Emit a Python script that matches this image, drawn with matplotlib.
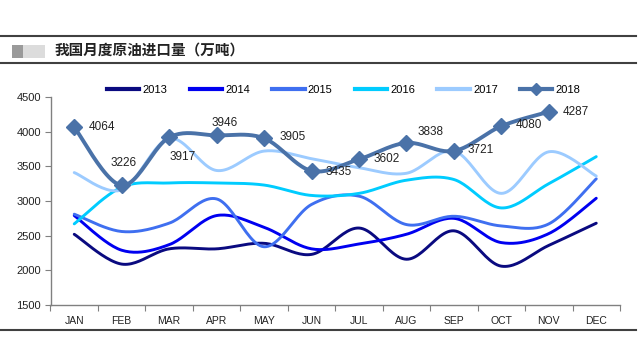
import numpy as np
import matplotlib
matplotlib.use("Agg")
import matplotlib.pyplot as plt
from matplotlib.lines import Line2D
from matplotlib.patches import Rectangle

plt.rcParams['font.family'] = ['Liberation Sans', 'Noto Sans CJK SC', 'DejaVu Sans']

months = ["JAN", "FEB", "MAR", "APR", "MAY", "JUN", "JUL", "AUG", "SEP", "OCT", "NOV", "DEC"]
years = ["2013", "2014", "2015", "2016", "2017", "2018"]

v2013 = [2520, 2090, 2310, 2310, 2390, 2230, 2610, 2160, 2570, 2060, 2360, 2680]
v2014 = [2790, 2290, 2370, 2790, 2620, 2310, 2380, 2520, 2750, 2400, 2530, 3040]
v2015 = [2810, 2560, 2680, 3030, 2340, 2950, 3070, 2660, 2780, 2640, 2670, 3320]
v2016 = [2670, 3200, 3260, 3260, 3230, 3080, 3110, 3300, 3310, 2900, 3250, 3640]
v2017 = [3410, 3160, 3900, 3440, 3720, 3610, 3480, 3400, 3720, 3110, 3710, 3360]
v2018 = [4064, 3226, 3917, 3946, 3905, 3435, 3602, 3838, 3721, 4080, 4287]

colors = ["#0a0a80", "#0000f0", "#3f6ff0", "#00ccff", "#9ccbff", "#4a72a8"]

# label offsets (pixels) for 2018 data labels
label_off = [(28, 0), (2, 22), (14, -20), (8, 12), (29, 1), (27, -1), (28, 0), (24, 11), (27, 1), (28, 1), (27, 0)]


def smooth(xs, ys, n=24):
    xs = np.asarray(xs, float)
    ys = np.asarray(ys, float)
    px, py = [], []
    m = len(xs)
    for i in range(m - 1):
        x0, y0 = (xs[i - 1], ys[i - 1]) if i > 0 else (xs[i], ys[i])
        x1, y1 = xs[i], ys[i]
        x2, y2 = xs[i + 1], ys[i + 1]
        x3, y3 = (xs[i + 2], ys[i + 2]) if i + 2 < m else (xs[i + 1], ys[i + 1])
        c1x, c1y = x1 + (x2 - x0) / 6, y1 + (y2 - y0) / 6
        c2x, c2y = x2 - (x3 - x1) / 6, y2 - (y3 - y1) / 6
        t = np.linspace(0, 1, n, endpoint=(i == m - 2))
        b0, b1, b2, b3 = (1 - t) ** 3, 3 * t * (1 - t) ** 2, 3 * t ** 2 * (1 - t), t ** 3
        px.extend(b0 * x1 + b1 * c1x + b2 * c2x + b3 * x2)
        py.extend(b0 * y1 + b1 * c1y + b2 * c2y + b3 * y2)
    return np.array(px), np.array(py)


fig = plt.figure(figsize=(6.4, 3.64), dpi=100)
ax = fig.add_axes([50.5 / 640, (364 - 305) / 364, (620 - 50.5) / 640, (305 - 97) / 364])

series = [v2013, v2014, v2015, v2016, v2017]
handles = []
for vals, col, yr in zip(series, colors[:5], years[:5]):
    x = np.arange(len(vals))
    sx, sy = smooth(x, vals)
    ax.plot(sx, sy, color=col, lw=2.1, solid_capstyle='round', zorder=2)
    handles.append(Line2D([], [], color=col, lw=3.0, label=yr))

x18 = np.arange(len(v2018))
sx, sy = smooth(x18, v2018)
ax.plot(sx, sy, color=colors[5], lw=2.8, zorder=3)
ax.plot(x18, v2018, ls='none', marker='D', ms=8, color=colors[5], zorder=4)
handles.append(Line2D([], [], color=colors[5], lw=3.0, marker='D', ms=6, label=years[5]))

for xi, v, (dx, dy) in zip(x18, v2018, label_off):
    ax.annotate(str(v), (xi, v), xytext=(dx, dy), textcoords='offset pixels',
                ha='center', va='center', fontsize=8.5, color='#222222', zorder=5)

ax.set_xlim(-0.5, 11.5)
ax.set_ylim(1500, 4500)
ax.set_yticks(np.arange(1500, 4501, 500))
ax.set_xticks(np.arange(-0.5, 12, 1))
ax.set_xticklabels([])
ax.set_xticks(np.arange(12), minor=True)
ax.set_xticklabels(months, minor=True)
ax.tick_params(axis='x', which='minor', length=0, pad=8, labelsize=7.5, colors='#222222')
ax.tick_params(axis='x', which='major', length=4, color='#808080', direction='out')
ax.tick_params(axis='y', length=4, color='#808080', labelsize=8, colors='#222222', pad=3)
for s in ['top', 'right']:
    ax.spines[s].set_visible(False)
for s in ['left', 'bottom']:
    ax.spines[s].set_color('#808080')
    ax.spines[s].set_linewidth(1.0)

leg = ax.legend(handles=handles, ncol=6, loc='center', bbox_to_anchor=(0.515, 1.034),
                frameon=False, fontsize=8, handlelength=2.9, handletextpad=0.3,
                columnspacing=2.0, borderaxespad=0)

# header / footer decoration
fig.add_artist(Line2D([0, 636 / 640], [1 - 36 / 364] * 2, color='#404040', lw=1.5))
fig.add_artist(Line2D([0, 636 / 640], [1 - 63 / 364] * 2, color='#404040', lw=1.5))
fig.add_artist(Line2D([0, 636 / 640], [1 - 330 / 364] * 2, color='#404040', lw=1.5))
fig.add_artist(Rectangle((12 / 640, 1 - 58 / 364), 11 / 640, 13 / 364, color='#9a9a9a', lw=0))
fig.add_artist(Rectangle((23 / 640, 1 - 58 / 364), 22 / 640, 13 / 364, color='#dcdcdc', lw=0))
fig.text(55 / 640, 1 - 50 / 364, "我国月度原油进口量（万吨）", fontsize=10.5, fontweight='bold',
         va='center', ha='left', color='#222222',
         family=['Noto Sans CJK SC', 'DejaVu Sans'])

fig.savefig("out.png", dpi=100)
